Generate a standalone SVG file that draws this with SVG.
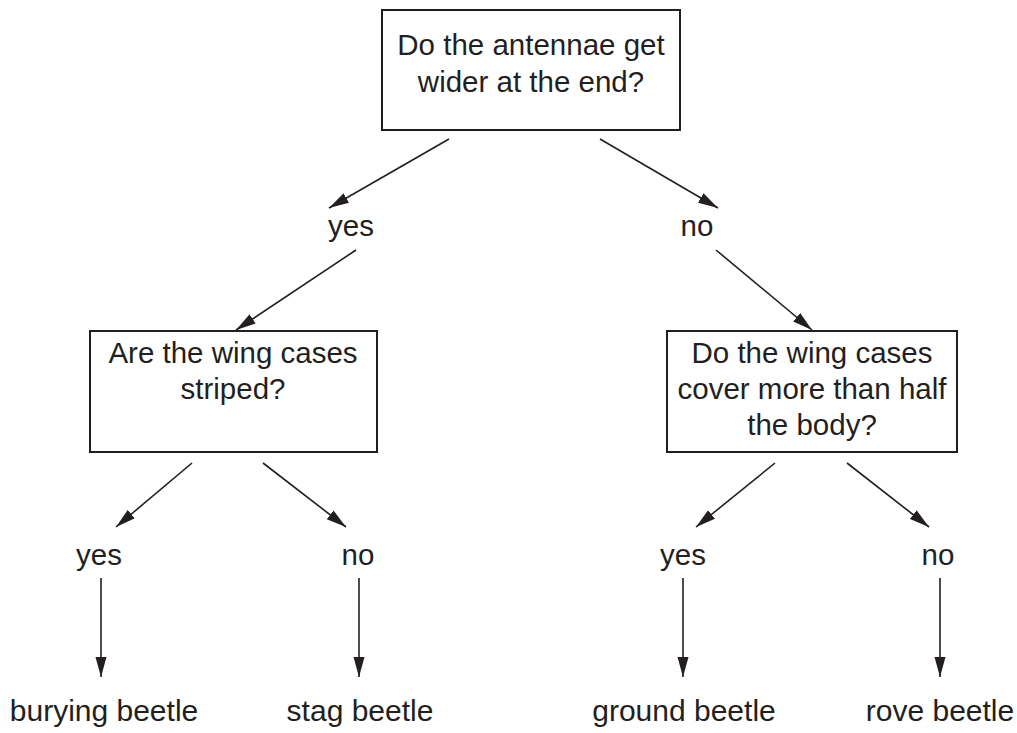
<svg xmlns="http://www.w3.org/2000/svg" width="1017" height="733" viewBox="0 0 1017 733">
<style>
text{font-family:"Liberation Sans",Arial,sans-serif;font-size:29.5px;fill:#231f20;text-anchor:middle}
.leaf{font-size:30px}
.box{fill:#fff;stroke:#231f20;stroke-width:2}
.ln{stroke:#231f20;stroke-width:1.6;fill:none;marker-end:url(#ah)}
</style>
<defs>
<marker id="ah" markerUnits="userSpaceOnUse" markerWidth="22" markerHeight="12" refX="20" refY="6" orient="auto">
<path d="M0,0.5 L20,6 L0,11.5 Z" fill="#231f20"/>
</marker>
</defs>
<rect width="1017" height="733" fill="#fff"/>
<g id="q1">
<rect class="box" x="382" y="10" width="298" height="120"/>
<text x="531" y="55">Do the antennae get</text>
<text x="531" y="92">wider at the end?</text>
</g>
<g id="q2">
<rect class="box" x="90" y="331" width="287" height="121"/>
<text x="233" y="363">Are the wing cases</text>
<text x="233" y="399">striped?</text>
</g>
<g id="q3">
<rect class="box" x="667" y="331" width="290" height="121"/>
<text x="812" y="363">Do the wing cases</text>
<text x="812" y="399">cover more than half</text>
<text x="812" y="435">the body?</text>
</g>
<g id="labels">
<text x="351" y="236">yes</text>
<text x="697" y="236">no</text>
<text x="99" y="565">yes</text>
<text x="358" y="565">no</text>
<text x="683" y="565">yes</text>
<text x="938" y="565">no</text>
</g>
<g id="burying-beetle"><text class="leaf" x="104" y="721">burying beetle</text></g>
<g id="stag-beetle"><text class="leaf" x="360" y="721">stag beetle</text></g>
<g id="ground-beetle"><text class="leaf" x="684" y="721">ground beetle</text></g>
<g id="rove-beetle"><text class="leaf" x="940" y="721">rove beetle</text></g>
<g id="connectors">
<line class="ln" x1="449" y1="139" x2="329" y2="208"/>
<line class="ln" x1="600" y1="139" x2="718" y2="208"/>
<line class="ln" x1="356" y1="250" x2="236" y2="330"/>
<line class="ln" x1="716" y1="250" x2="812" y2="330"/>
<line class="ln" x1="192" y1="463" x2="116" y2="527"/>
<line class="ln" x1="263" y1="463" x2="346" y2="527"/>
<line class="ln" x1="775" y1="463" x2="696" y2="527"/>
<line class="ln" x1="847" y1="463" x2="929" y2="527"/>
<line class="ln" x1="101" y1="578" x2="101" y2="677"/>
<line class="ln" x1="359" y1="578" x2="359" y2="677"/>
<line class="ln" x1="683" y1="578" x2="683" y2="677"/>
<line class="ln" x1="940" y1="578" x2="940" y2="677"/>
</g>
</svg>
